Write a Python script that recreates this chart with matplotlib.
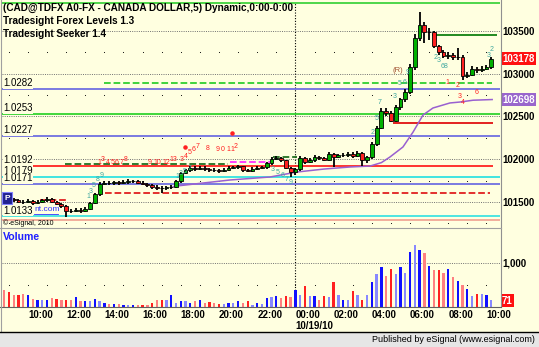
import numpy as np
import matplotlib
matplotlib.use('Agg')
import matplotlib.pyplot as plt
from matplotlib.lines import Line2D
from matplotlib.patches import Rectangle

plt.rcParams['font.family'] = ['Liberation Sans', 'DejaVu Sans']

# 15-minute bars, time in hours from 00:00 on 10/18/10
BAR_START = 8.75
BAR_STEP = 0.25
FIRST_OPEN = 101560

closes = [101550, 101535, 101520, 101505, 101500, 101510, 101490, 101505, 101520, 101535,
          101505, 101480, 101455, 101400, 101395, 101410, 101395, 101420, 101490, 101590,
          101715, 101725, 101720, 101730, 101720, 101735, 101745, 101745, 101725, 101715,
          101695, 101680, 101665, 101660, 101670, 101675, 101740, 101840, 101870, 101895,
          101890, 101900, 101880, 101875, 101870, 101860, 101875, 101895, 101910, 101915,
          101870, 101865, 101890, 101900, 101905, 101950, 102000, 102010, 101985, 101900,
          101845, 101880, 102010, 101965, 101990, 102025, 102015, 101995, 102060, 102030,
          102045, 102050, 102065, 102040, 102070, 101985, 102020, 102180, 102370, 102560,
          102540, 102450, 102610, 102700, 102790, 103080, 103420, 103565, 103485, 103485,
          103320, 103250, 103205, 103215, 103190, 103200, 102970, 102990, 103060, 103045,
          103060, 103080, 103178]
highs = [101580, 101565, 101550, 101535, 101525, 101530, 101525, 101520, 101540, 101555,
         101545, 101515, 101490, 101465, 101420, 101430, 101425, 101440, 101505, 101610,
         101735, 101750, 101745, 101750, 101745, 101755, 101765, 101760, 101755, 101740,
         101725, 101705, 101695, 101685, 101690, 101700, 101755, 101855, 101890, 101915,
         101920, 101925, 101915, 101900, 101895, 101890, 101895, 101915, 101925, 101935,
         101925, 101885, 101905, 101920, 101925, 101970, 102030, 102035, 102025, 101995,
         101910, 101900, 102040, 102025, 102010, 102045, 102040, 102030, 102085, 102075,
         102065, 102070, 102085, 102080, 102100, 102085, 102040, 102200, 102390, 102600,
         102600, 102560, 102630, 102720, 102820, 103110, 103460, 103720, 103600, 103530,
         103500, 103340, 103275, 103250, 103240, 103300, 103215, 103020, 103085, 103080,
         103085, 103105, 103200]
lows = [101530, 101515, 101500, 101485, 101480, 101485, 101470, 101475, 101490, 101505,
        101485, 101460, 101435, 101325, 101370, 101380, 101375, 101380, 101405, 101475,
        101575, 101700, 101700, 101700, 101700, 101705, 101715, 101720, 101705, 101695,
        101675, 101655, 101640, 101605, 101640, 101650, 101660, 101725, 101825, 101850,
        101865, 101870, 101860, 101850, 101850, 101840, 101845, 101860, 101880, 101890,
        101850, 101845, 101850, 101875, 101880, 101890, 101935, 101985, 101965, 101880,
        101790, 101820, 101860, 101945, 101950, 101970, 101995, 101975, 101975, 101910,
        102015, 102025, 102030, 102015, 102020, 101920, 101960, 102000, 102160, 102350,
        102500, 102430, 102430, 102580, 102670, 102760, 103040, 103380, 103360, 103400,
        103300, 103220, 103180, 103170, 103160, 103160, 102925, 102950, 102970, 103010,
        103020, 103040, 103060]
volumes = [380, 340, 265, 265, 300, 265, 190, 150, 150, 165,
           210, 190, 150, 165, 150, 230, 135, 135, 130, 190,
           130, 85, 75, 70, 60, 45, 40, 40, 45, 45,
           50, 100, 150, 170, 170, 280, 90, 130, 130, 95,
           130, 170, 95, 110, 80, 70, 70, 95, 95, 130,
           100, 130, 55, 85, 75, 210, 230, 240, 210, 240,
           225, 380, 280, 480, 260, 260, 150, 245, 225, 560,
           280, 170, 150, 360, 265, 170, 280, 560, 750, 900,
           700, 860, 760, 900, 780, 1250, 1400, 1300, 1230, 930,
           840, 850, 770, 870, 680, 580, 490, 400, 260, 300,
           300, 280, 170]
last_volume = 71

# moving average (purple)
ma_times = [17.6, 17.8, 20.58, 22.67, 24.08, 25.5, 26.86, 27.91, 28.5, 28.95,
            29.63, 30.16, 30.68, 31.2, 32.09, 32.62, 33.3, 34.3]
ma_values = [101680, 101687, 101757, 101792, 101850, 101885, 101909, 101920, 101960, 102026,
             102143, 102318, 102517, 102599, 102658, 102669, 102690, 102698]

# Tradesight Forex Levels (full-width lines, labelled on the left)
level_prices = [102820, 102530, 102270, 101920, 101790, 101710, 101330, 101290, 103830]
level_labelled = [True, True, True, True, True, True, True, False, False]
level_colors = ['#6464e0', '#20d020', '#6464e0', '#ff1010', '#20e0e0', '#6464e0', '#30e0e0', '#f0a090', '#30d030']
level_spans = [None, None, None, (10.26, 34.35), None, None, None, None, None]

# seeker lines: (price, start, end)
seeker_lines = [(102890, 13.98, 34.3, '#30d030', '--'),
                (101605, 14.03, 34.2, '#e02020', '--'),
                (103453, 31.15, 34.55, '#108010', '-'),
                (102424, 29.11, 34.35, '#e01010', '-'),
                (101944, 11.94, 20.47, '#207020', '--'),
                (102026, 22.83, 24.08, '#207020', '--'),
                (101967, 20.58, 22.67, '#ff30ff', '--'),
                (101523, 10.63, 12.04, '#e02020', '--')]

red_counts = [(13.72, 101956, '1'), (13.93, 101991, '3'), (14.19, 101956, '4'), (14.45, 101956, '5'),
              (14.66, 101967, '6'), (14.92, 101967, '7'), (15.13, 102002, '8'),
              (16.39, 101956, '9'), (16.75, 101956, '10'), (17.23, 101956, '12'), (17.59, 101991, '13'),
              (18.06, 102002, '3'), (18.27, 102037, '4'), (18.48, 102084, '5'), (18.69, 102119, '6'),
              (18.90, 102154, '7'), (19.42, 102131, '8'), (19.95, 102108, '9'), (20.21, 102108, '0'),
              (20.47, 102108, '1'), (20.68, 102108, '1'), (20.89, 102154, '2'),
              (31.94, 102903, '1'), (32.51, 102868, '2'), (32.62, 102728, '3'), (32.77, 102658, '4'),
              (33.46, 102775, '6')]
red_dots_t = [18.22, 20.68]
red_dots_p = [102143, 102307]
teal_counts = [(13.14, 101558, '1'), (13.30, 101628, '3'), (13.46, 101698, '5'), (13.66, 101768, '8'),
               (13.87, 101804, '9'), (17.80, 101792, '1'), (18.01, 101827, '3'), (18.22, 101862, '5'),
               (18.48, 101897, '7'), (22.83, 101874, '3'), (23.09, 101839, '5'), (23.35, 101804, '6'),
               (23.56, 101768, '7'), (23.77, 101722, '9'), (28.06, 102318, '2'), (28.27, 102482, '5'),
               (28.43, 102658, '7'), (29.21, 102728, '3'), (29.48, 102880, '5'), (29.69, 102903, '6'),
               (29.90, 103020, '9'), (31.36, 103184, '2'), (31.52, 103149, '3'), (31.68, 103090, '6'),
               (31.88, 103079, '8'), (34.14, 103208, '3'), (34.29, 103289, '2')]

hour_ticks = list(range(10, 35, 2))
W, H = 539, 347
BG = '#ffffe0'


def fig_box(x0, y0, x1, y1):
    return [x0 / W, 1 - y1 / H, (x1 - x0) / W, (y1 - y0) / H]


def fig_line(xs, ys, color, lw):
    fig.add_artist(Line2D([x / W for x in xs], [1 - y / H for y in ys],
                          transform=fig.transFigure, color=color, lw=lw))


fig = plt.figure(figsize=(W / 100, H / 100), dpi=100, facecolor=BG)
ax = fig.add_axes(fig_box(2, 2, 500, 227))
axv = fig.add_axes(fig_box(2, 228, 500, 307))
for a in (ax, axv):
    a.set_facecolor(BG)
    for s in a.spines.values():
        s.set_visible(False)
    a.set_xlim(8.64, 34.71)
ax.set_ylim(101207, 103839)
axv.set_ylim(0, 1795)

times = BAR_START + BAR_STEP * np.arange(len(closes))
closes = np.array(closes)
opens = np.r_[FIRST_OPEN, closes[:-1]]
up = closes >= opens

# grid
for p in [101500, 102000, 102500, 103000, 103500]:
    ax.axhline(p, color='#707070', ls=(0, (1, 1.3)), lw=0.7, zorder=1)
axv.axhline(1000, color='#707070', ls=(0, (1, 1.3)), lw=0.7, zorder=1)
hrs = np.arange(9, 35)
for p in [101250, 101750, 102250, 102750, 103250]:
    ax.scatter(hrs, np.full(len(hrs), p), s=0.6, color='black', lw=0, zorder=1)
axv.scatter(hrs, np.full(len(hrs), 500), s=0.6, color='black', lw=0, zorder=1)
ax.axvline(24, color='black', ls=(0, (1, 1.5)), lw=0.8, zorder=1)
axv.axvline(24, color='black', ls=(0, (1, 1.5)), lw=0.8, zorder=1)

# levels
for p, lab, c, span in zip(level_prices, level_labelled, level_colors, level_spans):
    if span is None:
        ax.axhline(p, color=c, lw=1.2, zorder=2)
    else:
        ax.hlines(p, span[0], span[1], color=c, lw=1.2, zorder=2)
    if lab:
        ax.annotate(f'{p / 100000:.4f}', (0.002, p), xycoords=('axes fraction', 'data'),
                    xytext=(0, 2), textcoords='offset points', va='baseline', ha='left',
                    fontsize=7, color='black', zorder=8,
                    bbox=dict(boxstyle='square,pad=0.05', fc=BG, ec='none'))
for p, t0, t1, c, ls in seeker_lines:
    ax.hlines(p, t0, t1, color=c, lw=1.3, linestyles=ls, zorder=3)

# moving average
ax.plot(ma_times, ma_values, color='#9960d0', lw=1.1, zorder=4)

# candles
ax.vlines(times, lows, highs, color='black', lw=1.3, zorder=5)
ax.bar(times, closes - opens, bottom=opens, width=0.2,
       color=np.where(up, '#00b000', '#ff2020'), edgecolor='black', lw=0.6, zorder=6)

# seeker counts
for t, p, s in red_counts:
    ax.text(t, p, s, color='#ff2020', fontsize=5, ha='center', va='center', zorder=7)
ax.scatter(red_dots_t, red_dots_p, s=5, color='#ff2020', zorder=7)
for t, p, s in teal_counts:
    ax.text(t, p, s, color='#40a8a0', fontsize=5, ha='center', va='center', zorder=7)
ax.text(29.37, 103032, '(R)', color='#a05030', fontsize=5.5, ha='center', va='center', zorder=7)

# volume bars
vcolors = []
for i, u in enumerate(up):
    if u:
        vcolors.append('#1010ff' if i % 2 else '#8888ff')
    else:
        vcolors.append('#ff2020' if i % 2 else '#ff8080')
axv.bar(times, volumes, width=0.12, color=vcolors, zorder=3)

# axes labels
ax.yaxis.tick_right()
ax.set_yticks([101500, 102000, 102500, 103000, 103500])
ax.set_yticklabels([str(v) for v in [101500, 102000, 102500, 103000, 103500]],
                   fontsize=7, fontweight='bold')
ax.tick_params(axis='y', length=0, pad=2)
ax.set_xticks([])
axv.yaxis.tick_right()
axv.set_yticks([1000])
axv.set_yticklabels(['1,000'], fontsize=7, fontweight='bold')
axv.tick_params(axis='y', length=0, pad=2)
axv.set_xticks(hour_ticks)
axv.set_xticklabels([f'{h % 24:02d}:00' for h in hour_ticks], fontsize=7,
                    fontweight='bold', ha='left')
axv.tick_params(axis='x', length=0, pad=2)
axv.text(24, -0.24, '10/19/10', transform=axv.get_xaxis_transform(), fontsize=7,
         fontweight='bold', ha='left', va='center')

box = dict(boxstyle='square,pad=0.15', ec='none')
ax.text(1.004, closes[-1], str(closes[-1]), transform=ax.get_yaxis_transform(), fontsize=7,
        fontweight='bold', color='white', va='center', ha='left', clip_on=False,
        bbox=dict(box, fc='#ff1010'))
ax.text(1.004, ma_values[-1], str(ma_values[-1]), transform=ax.get_yaxis_transform(), fontsize=7,
        fontweight='bold', color='white', va='center', ha='left', clip_on=False,
        bbox=dict(box, fc='#9966cc'))
axv.text(1.004, 0.08, str(last_volume), transform=axv.transAxes, fontsize=7,
         fontweight='bold', color='white', va='center', ha='left', clip_on=False,
         bbox=dict(box, fc='#ff1010'))

# titles
fig.text(3 / W, 1 - 8 / H, '(CAD@TDFX A0-FX - CANADA DOLLAR,5) Dynamic,0:00-0:00',
         fontsize=7.2, fontweight='bold', va='center')
fig.text(3 / W, 1 - 21 / H, 'Tradesight Forex Levels 1.3', fontsize=7.2, fontweight='bold', va='center')
fig.text(3 / W, 1 - 34 / H, 'Tradesight Seeker 1.4', fontsize=7.2, fontweight='bold', va='center')
fig.text(3 / W, 1 - 237 / H, 'Volume', fontsize=7.6, fontweight='bold', color='#2020ff', va='center')
fig.text(4.5 / W, 1 - 198 / H, 'P', fontsize=6, fontweight='bold', color='white', va='center',
         bbox=dict(boxstyle='square,pad=0.25', fc='#202090', ec='#8080ff', lw=0.8))
fig.text(34 / W, 1 - 210 / H, 'nt.com', fontsize=6, color='#3030ff', va='center')
fig_line([34, 58], [214, 214], '#3030ff', 0.6)
fig.text(3 / W, 1 - 223 / H, '\u00a9 eSignal, 2010', fontsize=5, color='black', va='center')

# frame
fig_line([500.5, 500.5], [0, 307], '#909090', 0.8)
fig_line([0, 500.5], [227.5, 227.5], '#a0a0a0', 0.8)
fig_line([0, 500.5], [307, 307], '#606060', 0.8)
fig_line([1, 1], [0, 332], '#a0a0a0', 0.8)
fig_line([0, 539], [332, 332], 'black', 1.0)
fig.add_artist(Rectangle((0, 0), 1, 14 / H, transform=fig.transFigure, fc='#e6e6e6', ec='none'))
fig.text(535 / W, 1 - 340 / H, 'Published by eSignal (www.esignal.com)', fontsize=6.5,
         ha='right', va='center')

fig.savefig('out.png', dpi=100, facecolor=BG)
